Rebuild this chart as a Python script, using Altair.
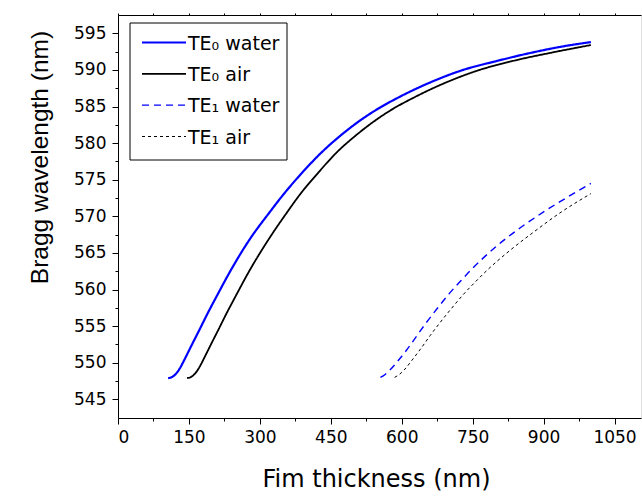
import altair as alt
import pandas as pd

# ---- data ----
te0_water_x = [106, 112, 118, 124, 130, 136, 145, 155, 173, 190, 208, 240, 279, 320, 350, 390, 430, 470, 510, 550, 589, 650, 730, 800, 871, 940, 1000]
te0_water_y = [547.9, 547.98, 548.21, 548.6, 549.15, 549.85, 551.0, 552.3, 554.6, 556.8, 559.0, 562.8, 566.9, 570.5, 573.0, 576.0, 578.7, 581.0, 583.0, 584.7, 586.1, 588.0, 590.0, 591.2, 592.3, 593.2, 593.8]

te0_air_x = [146, 152, 158, 164, 170, 176, 185, 195, 213, 230, 248, 280, 319, 357, 385, 424, 462, 502, 542, 582, 622, 680, 760, 840, 920, 1000]
te0_air_y = [547.9, 547.98, 548.21, 548.6, 549.15, 549.85, 551.0, 552.3, 554.6, 556.8, 559.0, 562.8, 566.9, 570.5, 573.0, 576.0, 578.7, 581.0, 583.0, 584.7, 586.1, 587.9, 589.9, 591.3, 592.4, 593.4]

te1_water_x = [555, 565, 575, 590, 610, 630, 650, 675, 700, 725, 750, 800, 850, 900, 950, 1000]
te1_water_y = [548.0, 548.4, 549.0, 550.1, 551.7, 553.5, 555.3, 557.4, 559.4, 561.2, 562.9, 565.9, 568.4, 570.6, 572.6, 574.5]

te1_air_x = [585, 595, 605, 620, 640, 660, 680, 705, 730, 755, 780, 830, 880, 940, 1000]
te1_air_y = [548.0, 548.4, 549.0, 550.2, 551.9, 553.7, 555.4, 557.4, 559.3, 561.0, 562.6, 565.4, 567.9, 570.7, 573.1]

series_names = ["TE\u2080 water", "TE\u2080 air", "TE\u2081 water", "TE\u2081 air"]
series_colors = ["#0000ff", "#000000", "#0000ff", "#000000"]
series_dashes = [[1, 0], [1, 0], [7, 5], [3, 3]]
series_widths = [2.2, 1.0, 2.2, 1.0]

x_tick_values = list(range(0, 1051, 75))
y_tick_values = [545 + 2.5 * k for k in range(0, 21)]

rows = []
for name, xs, ys in zip(series_names,
                        [te0_water_x, te0_air_x, te1_water_x, te1_air_x],
                        [te0_water_y, te0_air_y, te1_water_y, te1_air_y]):
    for i, (a, b) in enumerate(zip(xs, ys)):
        rows.append({"series": name, "t": a, "wl": b, "i": i})
df = pd.DataFrame(rows)
legend_df = pd.DataFrame({"series": series_names, "row": list(range(len(series_names)))})
box_df = pd.DataFrame({"k": [0]})

FONT = "DejaVu Sans"
YFONT = "Liberation Sans"
x_scale = alt.Scale(domain=[0, 1106], nice=False, zero=False)
y_scale = alt.Scale(domain=[542.45, 597.5], nice=False, zero=False)
color_enc = alt.Color("series:N", scale=alt.Scale(domain=series_names, range=series_colors), legend=None)
dash_enc = alt.StrokeDash("series:N", scale=alt.Scale(domain=series_names, range=series_dashes), legend=None)
width_enc = alt.StrokeWidth("series:N", scale=alt.Scale(domain=series_names, range=series_widths), legend=None)

lines = alt.Chart(df).mark_line(interpolate="monotone", clip=True).encode(
    x=alt.X("t:Q", scale=x_scale, axis=alt.Axis(
        values=x_tick_values, format="d",
        labelExpr="datum.value % 150 === 0 ? datum.label : ''",
        tickSize={"condition": {"test": "datum.value % 150 === 0", "value": 6}, "value": 3},
        tickColor="black", domainColor="black", labelColor="black",
        labelFont=FONT, labelFontSize=17, labelPadding=5,
        title="Fim thickness (nm)", titleFont=FONT, titleFontSize=24,
        titleFontWeight="normal", titleColor="black",
        titleX=258, titleY=68, titleBaseline="alphabetic",
        grid=False)),
    y=alt.Y("wl:Q", scale=y_scale, axis=alt.Axis(
        values=y_tick_values, format="d",
        labelExpr="datum.value % 5 === 0 ? datum.label : ''",
        tickSize={"condition": {"test": "datum.value % 5 === 0", "value": 6}, "value": 3},
        tickColor="black", domainColor="black", labelColor="black",
        labelFont=FONT, labelFontSize=17, labelPadding=6,
        title="Bragg wavelength (nm)", titleFont=YFONT, titleFontSize=24.5,
        titleFontWeight="normal", titleColor="black",
        titleX=-71, titleY=142, titleBaseline="alphabetic",
        grid=False)),
    color=color_enc, strokeDash=dash_enc, strokeWidth=width_enc,
    order=alt.Order("i:Q"),
)

top = alt.Chart(df).mark_point(opacity=0).encode(
    x=alt.X("t:Q", scale=x_scale, axis=alt.Axis(
        orient="top", values=x_tick_values, labels=False, title=None,
        tickSize=2, tickColor="black", domainColor="black", grid=False)),
    y=alt.Y("wl:Q", scale=y_scale, axis=None),
)

# ---- hand-drawn legend ----
row_y = alt.Y("row:Q", scale=alt.Scale(domain=[0, 3], range=[27.5, 121.5]), axis=None)
leg_lines = alt.Chart(legend_df).mark_rule().encode(
    x=alt.value(24), x2=alt.value(68), y=row_y,
    color=color_enc, strokeDash=dash_enc, strokeWidth=width_enc,
)
leg_text = alt.Chart(legend_df).mark_text(
    align="left", baseline="middle", font=FONT, fontSize=19, color="black", dy=1
).encode(x=alt.value(70), y=row_y, text="series:N")
leg_box = alt.Chart(box_df).mark_rect(fillOpacity=0, stroke="black", strokeWidth=1).encode(
    x=alt.value(12), x2=alt.value(169), y=alt.value(8), y2=alt.value(145),
)

chart = alt.layer(lines, top, leg_box, leg_lines, leg_text).resolve_axis(
    x="independent"
).resolve_scale(y="independent").properties(
    width=523, height=403,
    padding={"left": 118, "top": 15, "right": 1, "bottom": 80},
    autosize=alt.AutoSizeParams(type="none"),
).configure_view(stroke=None).configure(background="white")

chart.save("out.html", embed_options={"renderer": "svg", "actions": False})
